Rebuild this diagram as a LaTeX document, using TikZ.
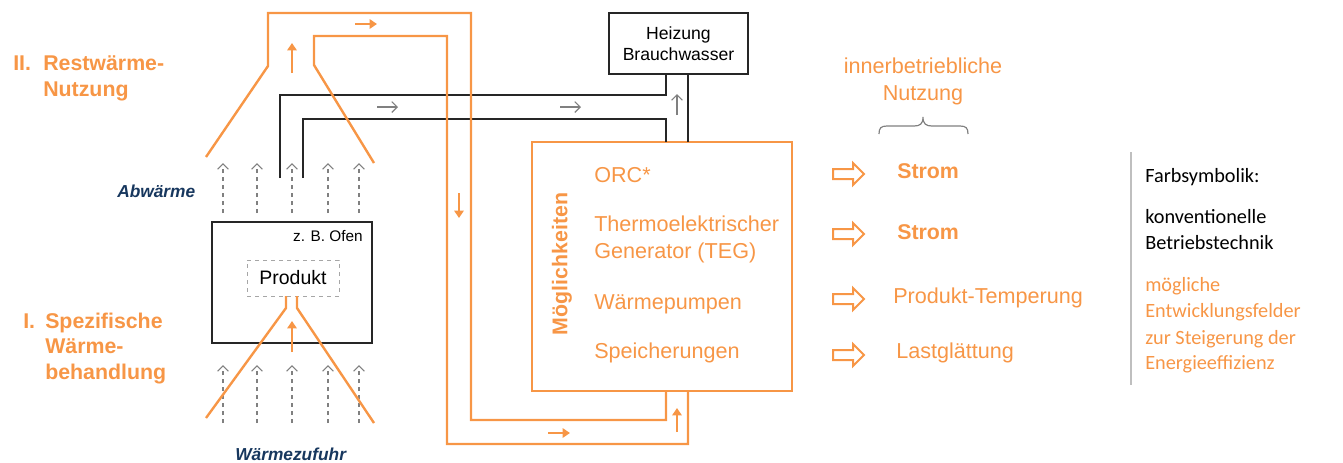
\documentclass[tikz,border=0pt]{standalone}
\usepackage{fontspec}
\setmainfont{Liberation Sans}
\newfontfamily\carlito{Carlito}
\usetikzlibrary{arrows.meta}
\definecolor{org}{HTML}{F79646}
\definecolor{dblue}{RGB}{23,55,94}
\definecolor{gr}{HTML}{808080}
\definecolor{sep}{HTML}{BFBFBF}
\tikzset{
  txt/.style={inner sep=0pt, anchor=base west},
  otxt/.style={txt, text=org, font=\fontsize{16.2}{19}\selectfont},
  obold/.style={txt, text=org, font=\bfseries\fontsize{16}{19}\selectfont},
  btxt/.style={txt, text=dblue, font=\bfseries\itshape\fontsize{13}{15}\selectfont},
  ctxt/.style={txt, font=\carlito\fontsize{15.2}{18}\selectfont},
  oline/.style={draw=org, line width=1.8pt},
  oarr/.style={draw=org, line width=2.2pt, -{Triangle[length=5.5pt,width=7pt]}},
  garr/.style={draw=gr, line width=0.9pt, -{Straight Barb[length=4pt,width=8pt]}},
  gdash/.style={garr, dash pattern=on 3pt off 3pt},
  blk/.style={draw=black!85, line width=1pt},
  hollow/.pic={\draw[org, line width=1.5pt, line join=miter]
    (-15,-5)--(5,-5)--(5,-11)--(16,0)--(5,11)--(5,5)--(-15,5)--cycle;}
}
\begin{document}
\begin{tikzpicture}[x=0.75pt,y=-0.75pt]
\useasboundingbox (0,0) rectangle (1343,462);

% boxes
\node[draw=black!85, line width=1.1pt, minimum width=104.25pt, minimum height=45.75pt,
      align=center, inner sep=0pt, font=\fontsize{13.2}{15.5}\selectfont] (hz) at (678.5,43.5)
      {Heizung\\Brauchwasser};
\node[draw=org, line width=1.8pt, minimum width=195pt, minimum height=186.75pt, inner sep=0pt]
      (mb) at (662,266.5) {};
\node[draw=black!85, line width=1.1pt, minimum width=120pt, minimum height=90.75pt, inner sep=0pt]
      (ofen) at (292,282.5) {};
\node[draw=gr!70, dashed, line width=0.7pt, minimum width=69pt, minimum height=27pt, inner sep=0pt,
      font=\fontsize{14.6}{17}\selectfont] (prod) at (293,278) {Produkt};
\node[txt, anchor=base east, font=\fontsize{11.5}{13}\selectfont] (ofenlbl) at (363,241) {z. B. Ofen};

% black pipes
\coordinate (b1s) at (280,178);
\coordinate (b2s) at (303,178);
\draw[blk] (b1s) -- (280,95) -- (666,95) -- (666,74);
\draw[blk] (b2s) -- (303,119) -- (666,119) -- (666,142);
\draw[blk] (688,74) -- (688,142);

% grey flow arrows
\draw[garr] (377,107) -- (398,107);
\draw[garr] (560,107) -- (581,107);
\draw[garr] (677,115) -- (677,94);

% dashed heat arrows
\foreach \x in {223,257,292,328,359}{
  \draw[gdash] (\x,213) -- (\x,163);
  \draw[gdash] (\x,423) -- (\x,365);
}

% orange loops
\draw[oline] (206,157) -- (268,66) -- (268,13) -- (471,13) -- (471,420) -- (666,420) -- (666,391);
\draw[oline] (374,163) -- (314,65) -- (314,36) -- (447,36) -- (447,444) -- (688,444) -- (688,391);
\draw[oline] (206,418) -- (286,308) -- (286,296);
\draw[oline] (374,423) -- (297,308) -- (297,296);

% orange small arrows
\draw[oarr] (292,73) -- (292,43);
\draw[oarr] (355,24) -- (377,24);
\draw[oarr] (459,193) -- (459,218);
\draw[oarr] (548,433) -- (570,433);
\draw[oarr] (677,432) -- (677,408);
\draw[oarr] (292,352) -- (292,321);

% left labels
\node[obold] (l2n) at (13,70) {II.};
\node[obold] (l2a) at (43,70) {Restwärme-};
\node[obold] (l2b) at (43,96) {Nutzung};
\node[obold] (l1n) at (23,328) {I.};
\node[obold] (l1a) at (45,328) {Spezifische};
\node[obold] (l1b) at (45,353) {Wärme-};
\node[obold] (l1c) at (45,379) {behandlung};
\node[btxt] (abw) at (117,197) {Abwärme};
\node[btxt] (wzf) at (235,460) {Wärmezufuhr};

% Moeglichkeiten box content
\node[rotate=90, inner sep=0pt, text=org, font=\bfseries\fontsize{16}{19}\selectfont] (mog) at (562,264) {Möglichkeiten};
\node[otxt] (orc) at (594,182) {ORC*};
\node[otxt] (teg1) at (594,231) {Thermoelektrischer};
\node[otxt] (teg2) at (594,258) {Generator (TEG)};
\node[otxt] (wp) at (594,309) {Wärmepumpen};
\node[otxt] (sp) at (594,358) {Speicherungen};

% innerbetriebliche Nutzung
\node[otxt, anchor=base] (inn1) at (923,73) {innerbetriebliche};
\node[otxt, anchor=base] (inn2) at (923,100) {Nutzung};
\draw[gr, line width=0.9pt] (879,134) .. controls (879,128) and (881,126) .. (887,126) -- (914,126)
  .. controls (920,126) and (923,124) .. (923,117)
  .. controls (923,124) and (926,126) .. (932,126) -- (960,126)
  .. controls (966,126) and (968,128) .. (968,134);

% hollow arrows and results
\pic at (848,174) {hollow};
\pic at (848,234) {hollow};
\pic at (848,299) {hollow};
\pic at (848,355) {hollow};
\node[obold] (st1) at (897,178) {Strom};
\node[obold] (st2) at (897,239) {Strom};
\node[otxt] (pt) at (893,303) {Produkt-Temperung};
\node[otxt] (lg) at (896,358) {Lastglättung};

% legend
\draw[sep, line width=1.5pt] (1131,152) -- (1131,385);
\node[ctxt] (fs) at (1145,182) {Farbsymbolik:};
\node[ctxt] (kv1) at (1145,223) {konventionelle};
\node[ctxt] (kv2) at (1145,249) {Betriebstechnik};
\node[ctxt, text=org] (mg1) at (1145,291) {mögliche};
\node[ctxt, text=org] (mg2) at (1145,317) {Entwicklungsfelder};
\node[ctxt, text=org] (mg3) at (1145,344) {zur Steigerung der};
\node[ctxt, text=org] (mg4) at (1145,369) {Energieeffizienz};
\end{tikzpicture}
\end{document}
